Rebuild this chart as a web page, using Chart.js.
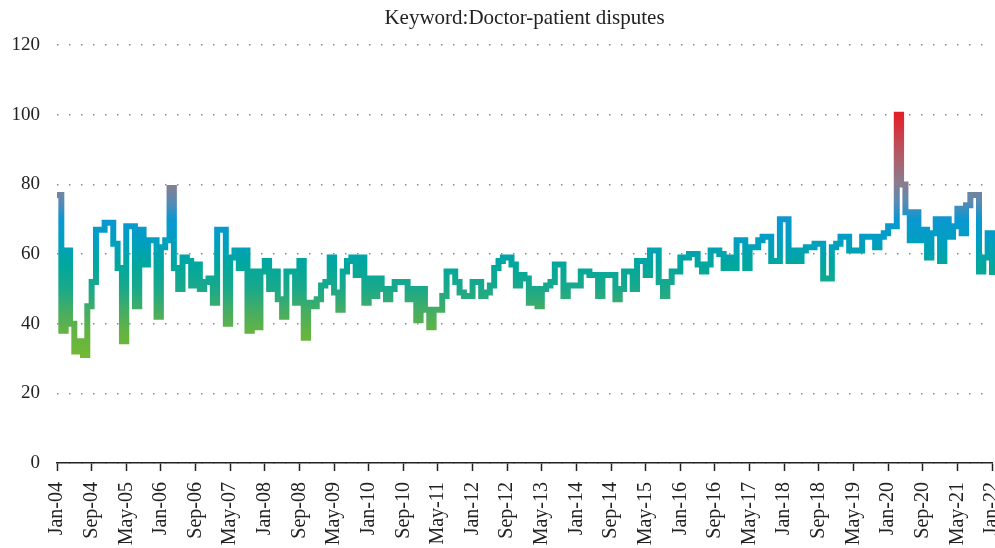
<!DOCTYPE html>
<html>
<head>
<meta charset="utf-8">
<title>Keyword:Doctor-patient disputes</title>
<script src="https://cdn.jsdelivr.net/npm/chart.js@4.4.1/dist/chart.umd.min.js"></script>
<style>
  html, body { margin: 0; padding: 0; background: #fff; }
  #wrap { width: 995px; height: 548px; }
</style>
</head>
<body>
<div id="wrap"><canvas id="chart"></canvas></div>
<script>
// months Jan-04 .. Jan-22
const monthNames = ['Jan', 'Feb', 'Mar', 'Apr', 'May', 'Jun', 'Jul', 'Aug', 'Sep', 'Oct', 'Nov', 'Dec'];
const years = ['04', '05', '06', '07', '08', '09', '10', '11', '12', '13', '14', '15', '16', '17', '18', '19', '20', '21', '22'];
const months = [];
years.forEach(function (yy) {
    monthNames.forEach(function (m) {
        if (months.length < 217) months.push(m + '-' + yy);
    });
});

// search index, one row per year
const searchIndex = [
    77, 38, 61, 40, 32, 35, 31, 45, 52, 67, 67, 69,
    69, 63, 56, 35, 68, 68, 45, 67, 57, 64, 64, 42,
    62, 64, 79, 56, 50, 59, 58, 51, 57, 50, 52, 53,
    46, 67, 67, 40, 59, 61, 56, 61, 38, 55, 39, 55,
    58, 50, 55, 47, 42, 55, 55, 46, 58, 36, 46, 45,
    47, 51, 52, 59, 49, 44, 55, 58, 59, 54, 59, 46,
    53, 48, 53, 50, 47, 50, 52, 52, 52, 47, 50, 41,
    50, 44, 39, 44, 44, 48, 55, 55, 52, 49, 48, 48,
    52, 52, 48, 49, 51, 56, 58, 59, 59, 57, 51, 54,
    53, 46, 50, 45, 50, 51, 52, 57, 57, 48, 51, 51,
    51, 55, 55, 54, 54, 48, 54, 54, 54, 47, 50, 55,
    55, 50, 58, 58, 54, 61, 61, 52, 48, 52, 55, 55,
    59, 59, 60, 60, 57, 55, 57, 61, 61, 60, 56, 59,
    56, 64, 64, 56, 62, 62, 64, 65, 65, 58, 58, 70,
    70, 58, 61, 58, 61, 62, 62, 63, 63, 53, 53, 62,
    63, 65, 65, 61, 61, 61, 65, 65, 65, 62, 65, 66,
    68, 68, 100, 80, 72, 64, 72, 64, 67, 59, 66, 70,
    58, 70, 65, 68, 73, 66, 74, 77, 77, 55, 59, 66,
    54
];

const yTicks = [0, 20, 40, 60, 80, 100, 120];
const labelEvery = 8;

const serif = "'Liberation Serif', 'Times New Roman', serif";

// colour by value: red at the top, blue in the 60s-70s, green at the bottom
function valueGradient(context) {
    const chart = context.chart;
    const area = chart.chartArea;
    if (!area) return '#00a79e';
    const y = chart.scales.y;
    const top = y.getPixelForValue(100);
    const bottom = y.getPixelForValue(30);
    const g = chart.ctx.createLinearGradient(0, top, 0, bottom);
    const stop = (v, c) => g.addColorStop((100 - v) / 70, c);
    stop(100, '#e41f2c');
    stop(90, '#b8545f');
    stop(80, '#887e91');
    stop(75, '#5a8ab2');
    stop(70, '#0b97d1');
    stop(64, '#009fc2');
    stop(57, '#00a79d');
    stop(50, '#1aa98a');
    stop(44, '#43ad65');
    stop(38, '#62b344');
    stop(30, '#74b934');
    return g;
}

new Chart(document.getElementById('chart').getContext('2d'), {
    type: 'line',
    data: {
        labels: months,
        datasets: [{
            label: 'Doctor-patient disputes',
            data: searchIndex,
            stepped: true,
            borderColor: valueGradient,
            borderWidth: 6,
            borderJoinStyle: 'miter',
            borderCapStyle: 'butt',
            pointRadius: 0,
            fill: false
        }]
    },
    options: {
        responsive: true,
        maintainAspectRatio: false,
        animation: false,
        layout: { padding: { top: 0, right: 3, bottom: 0, left: 0 } },
        plugins: {
            legend: { display: false },
            tooltip: { enabled: false },
            title: {
                display: true,
                text: 'Keyword:Doctor-patient disputes',
                fullSize: false,
                color: '#222',
                font: { family: serif, size: 21, weight: 'normal' },
                padding: { top: 6, bottom: 14 }
            }
        },
        scales: {
            x: {
                type: 'category',
                offset: false,
                grid: {
                    drawOnChartArea: false,
                    drawTicks: true,
                    tickLength: 8,
                    tickWidth: 1.5,
                    tickColor: ctx => ctx.index % labelEvery === 0 ? '#222' : 'rgba(0,0,0,0)',
                    color: 'rgba(0,0,0,0)'
                },
                border: { display: true, color: '#222', width: 1.5 },
                ticks: {
                    autoSkip: false,
                    minRotation: 90,
                    maxRotation: 90,
                    padding: 11,
                    color: '#222',
                    font: { family: serif, size: 20 },
                    callback: function (val, index) {
                        return index % labelEvery === 0 ? this.getLabelForValue(val) : '';
                    }
                },
                afterFit: function (scale) {
                    scale.height = 85;
                    scale.paddingLeft = 0;
                    scale.paddingRight = 0;
                }
            },
            y: {
                min: 0,
                max: 120,
                afterBuildTicks: function (scale) {
                    scale.ticks = yTicks.map(v => ({ value: v }));
                },
                grid: {
                    color: '#8a8a8a',
                    lineWidth: 1.5,
                    drawTicks: false
                },
                border: { display: false, dash: [1.5, 10.5] },
                ticks: {
                    padding: 17,
                    color: '#222',
                    font: { family: serif, size: 19 }
                },
                afterFit: function (scale) {
                    scale.width = 57;
                }
            }
        }
    }
});
</script>
</body>
</html>
